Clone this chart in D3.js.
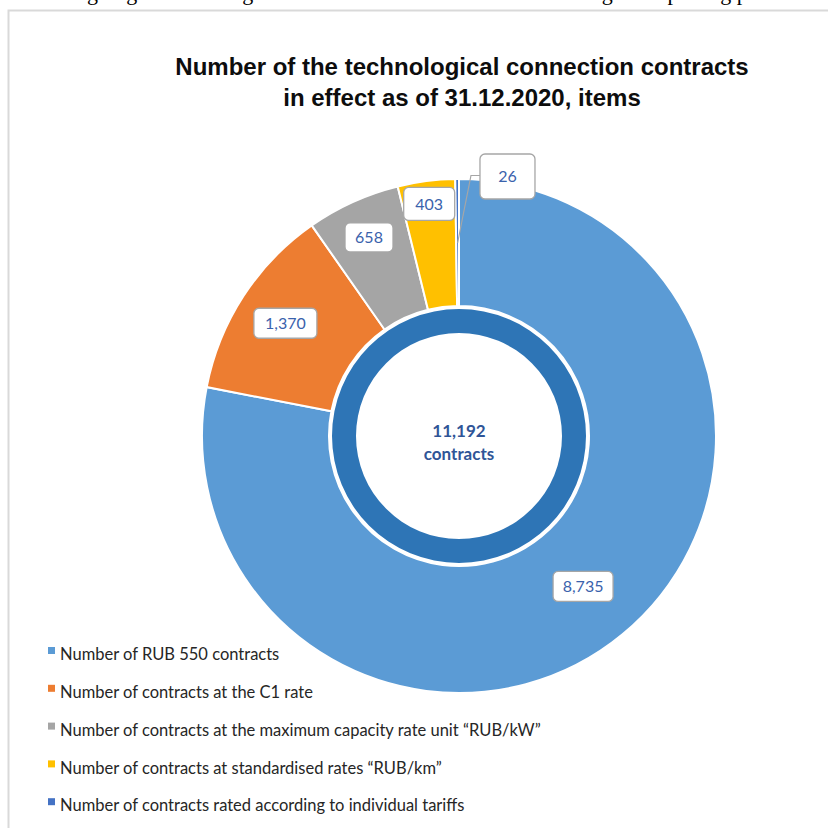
<!DOCTYPE html>
<html>
<head>
<meta charset="utf-8">
<script src="https://cdn.jsdelivr.net/npm/d3@7"></script>
<style>
  body { margin: 0; background: #fff; }
  svg { display: block; }
</style>
</head>
<body>
<div id="chart"></div>
<script>
/* DATA */
const categories = [
  "Number of RUB 550 contracts",
  "Number of contracts at the C1 rate",
  "Number of contracts at the maximum  capacity rate unit \u201cRUB/kW\u201d",
  "Number of contracts at standardised rates \u201cRUB/km\u201d",
  "Number of contracts rated according to individual tariffs"
];
const values = [8735, 1370, 658, 403, 26];
const valueLabels = ["8,735", "1,370", "658", "403", "26"];
const colors = ["#5B9BD5", "#ED7D31", "#A5A5A5", "#FFC000", "#4472C4"];
const titleLines = ["Number of the technological connection contracts", "in effect as of 31.12.2020, items"];
const centerLines = ["11,192", "contracts"];

/* CONSTANTS */
const width = 828, height = 828;
const cx = 459, cy = 436;
const outerR = 257, innerR = 130;
// where each value label sits (Excel nudged the small ones outward)
const labelR = [195, 207, 218, 234, 264];
const labelShift = [0, 0, 0, 0, 11]; // degrees, clockwise
const boxW = [60, 63, 48, 51, 55];
const boxH = [30, 30, 29, 33, 45];
const labelColor = "#3A62AC";

const svg = d3.select("#chart").append("svg")
  .attr("width", width)
  .attr("height", height);

// clipped line of document text above the chart
svg.append("text")
  .attr("x", 40).attr("y", 0)
  .attr("font-family", "Liberation Serif, serif")
  .attr("font-size", 22)
  .attr("fill", "#000")
  .text("the signing of technological connection contracts in effect during the reporting period");

// chart area border
svg.append("rect")
  .attr("x", 8.5).attr("y", 10.5)
  .attr("width", 900).attr("height", 900)
  .attr("fill", "#fff")
  .attr("stroke", "#D9D9D9")
  .attr("stroke-width", 2);

/* TITLE */
svg.append("g").selectAll("text")
  .data(titleLines)
  .join("text")
  .attr("x", 462)
  .attr("y", (d, i) => 75 + i * 31)
  .attr("text-anchor", "middle")
  .attr("font-family", "Liberation Sans Narrow, Arial Narrow, Liberation Sans, sans-serif")
  .attr("font-weight", "bold")
  .attr("font-size", 24)
  .attr("fill", "#0d0d0d")
  .text(d => d);

/* PIE */
const pie = d3.pie().sort(null).value(d => d);
const arcs = pie(values);
const arc = d3.arc().innerRadius(innerR).outerRadius(outerR);

const g = svg.append("g").attr("transform", `translate(${cx},${cy})`);

g.selectAll("path.slice")
  .data(arcs)
  .join("path")
  .attr("class", "slice")
  .attr("d", arc)
  .attr("fill", (d, i) => colors[i])
  .attr("stroke", "#fff")
  .attr("stroke-width", 2);

// inner decorative ring
g.append("path")
  .attr("d", d3.arc().innerRadius(103).outerRadius(127).startAngle(0).endAngle(2 * Math.PI)())
  .attr("fill", "#2E75B6");

g.selectAll("text.center")
  .data(centerLines)
  .join("text")
  .attr("class", "center")
  .attr("x", 0)
  .attr("y", (d, i) => 1 + i * 23)
  .attr("text-anchor", "middle")
  .attr("font-family", "Lato, Open Sans, sans-serif")
  .attr("font-weight", "bold")
  .attr("font-size", 17)
  .attr("fill", "#2F5597")
  .text(d => d);

/* LABELS */
const midAngle = d => (d.startAngle + d.endAngle) / 2;
const labelPos = (d, i) => {
  const a = midAngle(d) + labelShift[i] * Math.PI / 180;
  return [Math.sin(a) * labelR[i], -Math.cos(a) * labelR[i]];
};

// leader line for the tiny slice
const tiny = arcs[4];
const tinyA = midAngle(tiny);
const tinyPos = labelPos(tiny, 4);
g.append("polyline")
  .attr("points", [
    [Math.sin(tinyA) * 193, -Math.cos(tinyA) * 193],
    [tinyPos[0] - boxW[4] / 2 - 9, tinyPos[1] - 1],
    [tinyPos[0] - boxW[4] / 2, tinyPos[1] - 1]
  ].map(p => p.join(",")).join(" "))
  .attr("fill", "none")
  .attr("stroke", "#A6A6A6")
  .attr("stroke-width", 1.2);

const labels = g.selectAll("g.label")
  .data(arcs)
  .join("g")
  .attr("class", "label")
  .attr("transform", (d, i) => `translate(${labelPos(d, i)})`);

labels.append("rect")
  .attr("x", (d, i) => -boxW[i] / 2)
  .attr("y", (d, i) => -boxH[i] / 2)
  .attr("width", (d, i) => boxW[i])
  .attr("height", (d, i) => boxH[i])
  .attr("rx", 5)
  .attr("fill", "#fff")
  .attr("stroke", "#A6A6A6")
  .attr("stroke-width", 1.3);

labels.append("text")
  .attr("text-anchor", "middle")
  .attr("dy", "0.35em")
  .attr("font-family", "Lato, Open Sans, sans-serif")
  .attr("font-size", 16)
  .attr("fill", labelColor)
  .text((d, i) => valueLabels[i]);

/* LEGEND */
const legend = svg.append("g").selectAll("g")
  .data(categories)
  .join("g")
  .attr("transform", (d, i) => `translate(48, ${655 + i * 37.8})`);

legend.append("rect")
  .attr("x", 0).attr("y", -8)
  .attr("width", 7).attr("height", 7)
  .attr("fill", (d, i) => colors[i]);

legend.append("text")
  .attr("x", 12)
  .attr("y", 0)
  .attr("dy", "0.32em")
  .attr("font-family", "Lato, Open Sans, sans-serif")
  .attr("font-size", 16.5)
  .attr("fill", "#262626")
  .text(d => d);
</script>
</body>
</html>
